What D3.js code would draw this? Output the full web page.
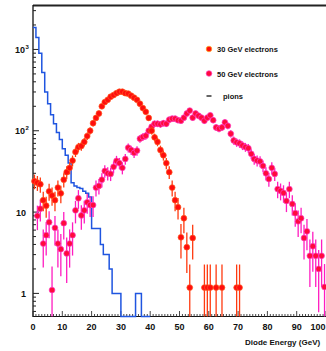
<!DOCTYPE html>
<html>
<head>
<meta charset="utf-8">
<script src="https://cdn.jsdelivr.net/npm/d3@7/dist/d3.min.js"></script>
<style>
	body { margin: 0; background: #fff; }
	text { font-family: "Liberation Sans", Arial, sans-serif; font-weight: bold; fill: #111; }
</style>
</head>
<body>
<svg id="chart" width="326" height="351"></svg>
<script>
// counts per 1 GeV bin, bin i covers [i, i+1) GeV
let pions		= [1860, 1400, 900, 520, 300, 215, 157, 122, 95, 78,
				   60, 50, 40, 23, 21, 20, 19.5, 18, 17, 15.3,
				   6.3, 6.3, 6.3, 4, 3, 3, 2, 1, 1, 1,
				   0, 0, 0, 0, 0, 1, 1, 0, 0, 0];

let electrons30	= [24, 23, 22, 14, 12, 18, 16, 14, 20, 17,
				   25, 31, 35, 43, 55, 63, 65, 73, 86, 100,
				   124, 144, 163, 200, 225, 240, 262, 275, 290, 302,
				   302, 290, 286, 270, 255, 240, 215, 190, 171, 144,
				   100, 83, 73, 58, 50, 40, 31, 20, 14, 11.5,
				   4.9, 8.4, 3.7, 1.18, 4.8, 0, 0, 0, 1.18, 1.18,
				   1.18, 0, 1.18, 0, 1.18, 0, 0, 0, 0, 1.18,
				   1.18, 0, 0, 0, 0, 0, 0, 0, 0, 0,
				   0, 0, 0, 0, 0, 0, 0, 0, 0, 0,
				   0, 0, 0, 0, 0, 0, 0, 0, 0, 0];

let electrons50	= [0, 9, 11, 4.1, 5.2, 7.5, 1.1, 6.4, 4.1, 3.5,
				   7.3, 3.1, 4.1, 5.2, 10.5, 14.8, 9.1, 10.5, 13.2, 12.2,
				   12.2, 20, 21, 25, 32, 30, 29.5, 36, 42.6, 40,
				   35, 45, 62, 58, 53.5, 57, 80, 84, 87, 100,
				   112, 122, 122, 120, 124, 122, 137, 141, 141, 135,
				   133, 145, 163, 177, 145, 163, 153, 145, 133, 145,
				   155, 135, 110, 106, 110, 127, 115, 92, 76, 72,
				   70, 66, 63, 61, 52, 45, 43, 42, 37, 30,
				   25.5, 35, 29.5, 19.2, 18.2, 17.2, 13.7, 19.2, 12.6, 9.7,
				   7.7, 8.4, 4.8, 5.8, 2.9, 3.8, 2.9, 2, 2.9, 1.2];

let xTicks		= [0, 10, 20, 30, 40, 50, 60, 70, 80, 90, 100];
let yTicks		= [1, 10, 100, 1000];
let yExponents	= ['', '', '2', '3'];
let seriesNames	= ['30 GeV electrons', '50 GeV electrons', 'pions'];

let svg		= d3.select('#chart');
let yMin	= 0.52;

let x	= d3.scaleLinear().domain([0, 100]).range([33, 326]);
let y	= d3.scaleLog().domain([yMin, 3470]).range([316.5, 5.5]);

// frame
svg.append('line').attr('x1', 33).attr('x2', 326).attr('y1', 5.5).attr('y2', 5.5).style('stroke', '#222').style('stroke-width', 2);
svg.append('line').attr('x1', 33).attr('x2', 33).attr('y1', 5).attr('y2', 317).style('stroke', '#111').style('stroke-width', 1.3);
svg.append('line').attr('x1', 33).attr('x2', 326).attr('y1', 316.5).attr('y2', 316.5).style('stroke', '#111').style('stroke-width', 1.2);

// y ticks, log minors
let yMinor = [];
[0.1, 1, 10, 100, 1000].forEach((d) => { for (let k = 1; k < 10; k++) { let v = d * k; if (v >= yMin && v <= 3470) yMinor.push(v); } });
svg.append('g').selectAll('line').data(yMinor).join('line')
	.attr('x1', 33).attr('x2', (d) => (yTicks.includes(d) ? 39 : 36))
	.attr('y1', (d) => y(d)).attr('y2', (d) => y(d))
	.style('stroke', '#222').style('stroke-width', 1);

svg.append('g').selectAll('text').data(yTicks).join('text')
	.attr('x', (d, i) => (yExponents[i] ? 25 : 26)).attr('y', (d) => y(d) + 3.5)
	.attr('text-anchor', 'end').style('font-size', '9px')
	.text((d, i) => (yExponents[i] ? '10' : String(d)));
svg.append('g').selectAll('text').data(yTicks.filter((d, i) => yExponents[i])).join('text')
	.attr('x', 25.5).attr('y', (d) => y(d) - 0.5).style('font-size', '6px')
	.text((d) => yExponents[yTicks.indexOf(d)]);

// x ticks
let xMinor = d3.range(0, 101, 1);
svg.append('g').selectAll('line').data(xMinor).join('line')
	.attr('x1', (d) => x(d)).attr('x2', (d) => x(d))
	.attr('y1', 316.5).attr('y2', (d) => (d % 10 === 0 ? 311 : 314))
	.style('stroke', '#333').style('stroke-width', 0.9);

svg.append('g').selectAll('text').data(xTicks).join('text')
	.attr('x', (d) => (d === 100 ? 325.5 : x(d))).attr('y', 330)
	.attr('text-anchor', (d) => (d === 100 ? 'end' : 'middle'))
	.style('font-size', '9px').text((d) => d);

svg.append('text').attr('x', 245).attr('y', 345).style('font-size', '8px').text('Diode Energy (GeV)');

// pions histogram
let pionSteps = [];
pions.forEach((v, i) => { pionSteps.push([i, v]); pionSteps.push([i + 1, v]); });
let step = d3.line().x((d) => x(d[0])).y((d) => y(Math.max(d[1], yMin)));
svg.append('path').attr('d', step(pionSteps))
	.style('fill', 'none').style('stroke', '#1f55e0').style('stroke-width', 1.5);

// electron series with sqrt(N) error bars
function drawSeries(values, barColor, dotColor, haloColor) {
	let pts	= values.map((v, i) => ({ e: i + 0.5, v: v })).filter((d) => d.v > 0);
	let g	= svg.append('g');

	g.selectAll('line').data(pts).join('line')
		.attr('x1', (d) => x(d.e)).attr('x2', (d) => x(d.e))
		.attr('y1', (d) => y(Math.max(d.v - Math.sqrt(d.v), yMin)))
		.attr('y2', (d) => y(d.v + Math.sqrt(d.v)))
		.style('stroke', barColor).style('stroke-width', 1.3);

	g.selectAll('circle').data(pts).join('circle')
		.attr('cx', (d) => x(d.e)).attr('cy', (d) => y(d.v)).attr('r', 2.9)
		.style('fill', dotColor).style('stroke', haloColor).style('stroke-width', 0.7);
}

drawSeries(electrons50, '#ff1cc0', '#ff0a3c', '#ff40c8');
drawSeries(electrons30, '#ff3a10', '#ff0d0d', '#ff5a20');

// legend
let legend = svg.append('g').attr('transform', 'translate(209,0)');
legend.append('circle').attr('cx', 0).attr('cy', 49).attr('r', 2.8).style('fill', '#ff0d0d').style('stroke', '#ffb020').style('stroke-width', 0.7);
legend.append('circle').attr('cx', 0).attr('cy', 73.5).attr('r', 2.8).style('fill', '#ff0a3c').style('stroke', '#ff40c8').style('stroke-width', 0.7);
legend.append('line').attr('x1', -2.5).attr('x2', 2.5).attr('y1', 96).attr('y2', 96).style('stroke', '#111').style('stroke-width', 1.3);

legend.selectAll('text').data(seriesNames).join('text')
	.attr('x', (d, i) => (i === 2 ? 14 : 8)).attr('y', (d, i) => [52, 77, 98.5][i])
	.style('font-size', '7.5px').text((d) => d);
</script>
</body>
</html>
